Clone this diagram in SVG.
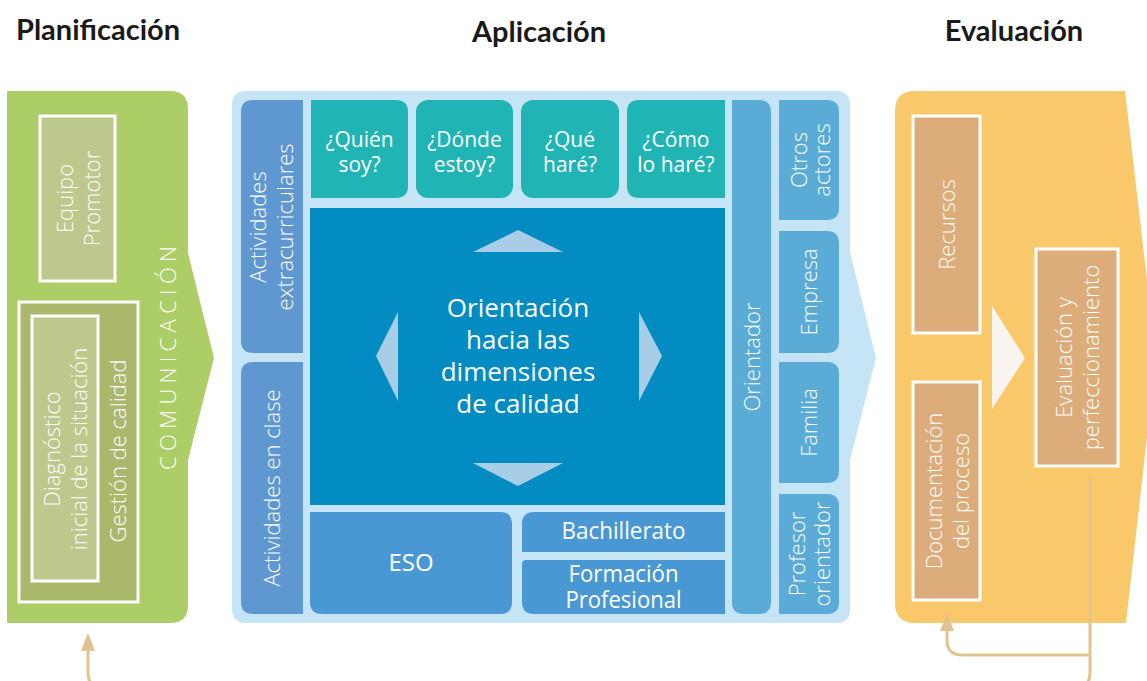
<svg xmlns="http://www.w3.org/2000/svg" width="1147" height="681" viewBox="0 0 1147 681">
<style>
.title{font-family:Lato,"Open Sans",sans-serif;font-weight:700;font-size:29px;fill:#1a1a1a;text-anchor:middle}
.t{font-family:"Open Sans","Liberation Sans",sans-serif;font-weight:300;font-size:22px;fill:#ffffff;text-anchor:middle}
.th{font-family:"Open Sans","Liberation Sans",sans-serif;font-weight:400;font-size:21px;fill:#ffffff;text-anchor:middle}
.tc{font-family:"Open Sans","Liberation Sans",sans-serif;font-weight:400;font-size:26px;fill:#ffffff;text-anchor:middle}
.tn{font-family:"Open Sans","Liberation Sans",sans-serif;font-weight:400;font-size:24px;fill:#ffffff;text-anchor:middle}
.gbox{fill:#bcc88c;stroke:#ffffff;stroke-width:3}
.gbox2{fill:#a9b86b;stroke:#ffffff;stroke-width:3}
.ybox{fill:#dcac7b;stroke:#ffffff;stroke-width:3}
.act{fill:#5f98d1}
.teal{fill:#21b4b4}
.lvl{fill:#4a98d3}
.side{fill:#5aabd6}
.tri{fill:#a8cde6}
.conn{fill:none;stroke:#e2c38f;stroke-width:3}
.head{fill:#e2c38f}
</style>

<text class="title" x="98" y="40">Planificación</text>
<text class="title" x="539" y="42">Aplicación</text>
<text class="title" x="1014" y="41">Evaluación</text>

<g id="planificacion">
<path d="M7 91 H170 Q188 91 188 109 V253 L214 358 L188 460 V605 Q188 623 170 623 H7 Z" fill="#adcd66"/>
<text class="t" transform="translate(168,358) rotate(-90)" x="0" y="8" textLength="224" lengthAdjust="spacing">COMUNICACIÓN</text>
</g>
<g id="equipo-promotor">
<rect class="gbox" x="40" y="116" width="75" height="165"/>
<text class="t" transform="translate(77.5,198.5) rotate(-90)"><tspan x="0" y="-5">Equipo</tspan><tspan x="0" y="22">Promotor</tspan></text>
</g>
<g id="gestion-calidad">
<rect class="gbox2" x="19" y="302" width="119" height="300"/>
<text class="t" transform="translate(118,451) rotate(-90)" x="0" y="8">Gestión de calidad</text>
</g>
<g id="diagnostico">
<rect class="gbox" x="32" y="316" width="66" height="265"/>
<text class="t" transform="translate(65,449) rotate(-90)"><tspan x="0" y="-5">Diagnóstico</tspan><tspan x="0" y="22">inicial de la situación</tspan></text>
</g>

<g id="aplicacion">
<path d="M246 91 H836 Q850 91 850 105 V252 L876 358 L850 460 V609 Q850 623 836 623 H246 Q232 623 232 609 V105 Q232 91 246 91 Z" fill="#c5e5f7"/>
</g>
<g id="act-extra">
<path class="act" d="M303 100 H253 Q241 100 241 112 V341 Q241 353 253 353 H303 Z"/>
<text class="t" transform="translate(272,227) rotate(-90)"><tspan x="0" y="-6">Actividades</tspan><tspan x="0" y="21">extracurriculares</tspan></text>
</g>
<g id="act-clase">
<path class="act" d="M303 362 H253 Q241 362 241 374 V602 Q241 614 253 614 H303 Z"/>
<text class="t" transform="translate(272,488) rotate(-90)" x="0" y="8">Actividades en clase</text>
</g>
<g id="quien">
<path class="teal" d="M311 100 H396 Q408 100 408 112 V186 Q408 198 396 198 H311 Z"/>
<text class="th" x="359.5" y="147">¿Quién</text>
<text class="th" x="359.5" y="172">soy?</text>
</g>
<g id="donde">
<rect class="teal" x="416" y="100" width="97" height="98" rx="12"/>
<text class="th" x="464.5" y="147">¿Dónde</text>
<text class="th" x="464.5" y="172">estoy?</text>
</g>
<g id="que">
<rect class="teal" x="521" y="100" width="98" height="98" rx="12"/>
<text class="th" x="570" y="147">¿Qué</text>
<text class="th" x="570" y="172">haré?</text>
</g>
<g id="como">
<path class="teal" d="M725 100 H639 Q627 100 627 112 V186 Q627 198 639 198 H725 Z"/>
<text class="th" x="676" y="147">¿Cómo</text>
<text class="th" x="676" y="172">lo haré?</text>
</g>
<g id="orientacion">
<rect x="310" y="208" width="415" height="297" fill="#038cc2"/>
<polygon class="tri" points="518,230 563,252 473,252"/>
<polygon class="tri" points="473,463 563,463 518,486"/>
<polygon class="tri" points="376,356 398,312 398,401"/>
<polygon class="tri" points="662,356 639,312 639,401"/>
<text class="tc" x="518" y="317">Orientación<tspan x="518" y="349">hacia las</tspan><tspan x="518" y="381">dimensiones</tspan><tspan x="518" y="413">de calidad</tspan></text>
</g>
<g id="eso">
<path class="lvl" d="M310 512 H500 Q512 512 512 524 V602 Q512 614 500 614 H322 Q310 614 310 602 Z"/>
<text class="tn" x="411" y="571">ESO</text>
</g>
<g id="bachillerato">
<path class="lvl" d="M534 512 H725 V552 H522 V524 Q522 512 534 512 Z"/>
<text class="tn" x="623.5" y="539" textLength="124" lengthAdjust="spacingAndGlyphs">Bachillerato</text>
</g>
<g id="fp">
<path class="lvl" d="M526 560 H725 V614 H534 Q522 614 522 602 V564 Q522 560 526 560 Z"/>
<text class="tn" x="623.5" y="582" textLength="110" lengthAdjust="spacingAndGlyphs">Formación</text>
<text class="tn" x="623.5" y="608" textLength="116" lengthAdjust="spacingAndGlyphs">Profesional</text>
</g>
<g id="orientador">
<path class="side" d="M732 100 H759 Q771 100 771 112 V602 Q771 614 759 614 H744 Q732 614 732 602 Z"/>
<text class="t" transform="translate(751.5,357) rotate(-90)" x="0" y="8">Orientador</text>
</g>
<g id="otros-actores">
<path class="side" d="M779 100 H827 Q839 100 839 112 V208 Q839 220 827 220 H779 Z"/>
<text class="t" transform="translate(809,160) rotate(-90)"><tspan x="0" y="-2">Otros</tspan><tspan x="0" y="21">actores</tspan></text>
</g>
<g id="empresa">
<path class="side" d="M779 231 H827 Q839 231 839 243 V341 Q839 353 827 353 H779 Z"/>
<text class="t" transform="translate(809,292) rotate(-90)" x="0" y="8">Empresa</text>
</g>
<g id="familia">
<path class="side" d="M779 362 H827 Q839 362 839 374 V471 Q839 483 827 483 H779 Z"/>
<text class="t" transform="translate(809,422.5) rotate(-90)" x="0" y="8">Familia</text>
</g>
<g id="profesor-orientador">
<path class="side" d="M779 494 H827 Q839 494 839 506 V602 Q839 614 827 614 H779 Z"/>
<text class="t" transform="translate(809,554) rotate(-90)"><tspan x="0" y="-4">Profesor</tspan><tspan x="0" y="21">orientador</tspan></text>
</g>

<g id="evaluacion">
<path d="M915 91 H1125 L1156 357 L1126 623 H915 Q895 623 895 603 V111 Q895 91 915 91 Z" fill="#f9c86a"/>
<polygon points="992,306 1025,358 992,409" fill="#faf4ee"/>
</g>
<g id="recursos">
<rect class="ybox" x="913" y="116" width="67" height="217"/>
<text class="t" transform="translate(946.5,224.5) rotate(-90)" x="0" y="8">Recursos</text>
</g>
<g id="documentacion">
<rect class="ybox" x="913" y="382" width="67" height="218"/>
<text class="t" transform="translate(946.5,491) rotate(-90)"><tspan x="0" y="-5">Documentación</tspan><tspan x="0" y="22">del proceso</tspan></text>
</g>
<g id="evaluacion-perfeccionamiento">
<rect class="ybox" x="1036" y="249" width="82" height="217"/>
<text class="t" transform="translate(1077,357.5) rotate(-90)"><tspan x="0" y="-5">Evaluación y</tspan><tspan x="0" y="22">perfeccionamiento</tspan></text>
</g>

<g id="connectors">
<path class="conn" d="M1090 478 V672 Q1090 690 1072 690 H106 Q88 690 88 672 V649"/>
<polygon class="head" points="88,633 81,651 95,651"/>
<path class="conn" d="M1090 655 H962 Q947 655 947 640 V629"/>
<polygon class="head" points="947,613 940,631 954,631"/>
</g>
</svg>
